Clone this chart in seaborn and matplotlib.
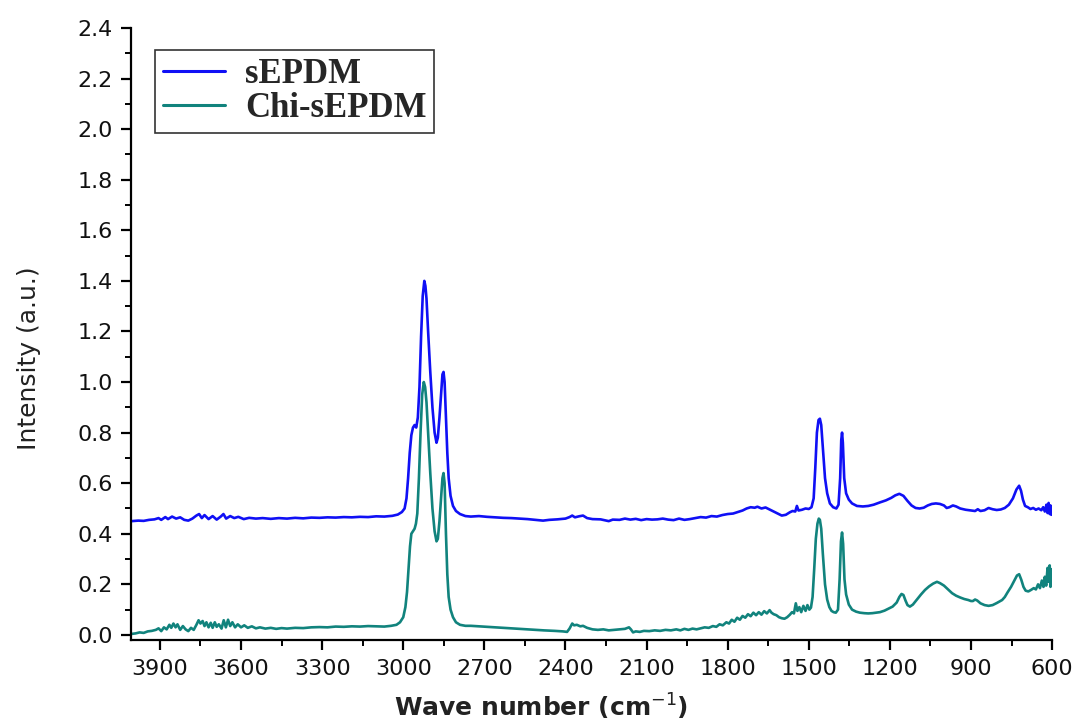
import numpy as np
import pandas as pd
import matplotlib
matplotlib.use("Agg")
import matplotlib.pyplot as plt
from matplotlib.ticker import MultipleLocator
import seaborn as sns

# ---- data ----
series_names = ["sEPDM", "Chi-sEPDM"]

sepdm_wn = [4005, 3980, 3960, 3940, 3920, 3905, 3895, 3880, 3870, 3855, 3840, 3825, 3810, 3795, 3780, 3765, 3755, 3745, 3735, 3720, 3705, 3690, 3675, 3665, 3655, 3640, 3625, 3610, 3590, 3570, 3545, 3520, 3490, 3460, 3430, 3400, 3370, 3340, 3310, 3280, 3250, 3220, 3190, 3160, 3130, 3100, 3070, 3040, 3020, 3005, 2995, 2988, 2982, 2976, 2970, 2964, 2958, 2952, 2946, 2940, 2934, 2928, 2922, 2918, 2914, 2908, 2900, 2892, 2884, 2877, 2872, 2866, 2860, 2855, 2851, 2847, 2842, 2837, 2832, 2825, 2816, 2805, 2790, 2770, 2750, 2720, 2690, 2660, 2630, 2600, 2570, 2540, 2510, 2483, 2460, 2430, 2400, 2385, 2375, 2365, 2350, 2335, 2320, 2300, 2270, 2240, 2225, 2200, 2180, 2160, 2140, 2120, 2100, 2080, 2060, 2040, 2020, 2000, 1980, 1960, 1940, 1920, 1900, 1880, 1860, 1840, 1820, 1800, 1780, 1760, 1745, 1730, 1715, 1700, 1690, 1675, 1660, 1645, 1630, 1615, 1600, 1585, 1570, 1560, 1550, 1544, 1538, 1525, 1512, 1500, 1490, 1482, 1476, 1470, 1464, 1459, 1454, 1448, 1440, 1432, 1422, 1410, 1398, 1390, 1384, 1380, 1377, 1374, 1369, 1362, 1352, 1340, 1322, 1300, 1280, 1260, 1237, 1215, 1195, 1180, 1165, 1150, 1135, 1120, 1105, 1090, 1075, 1060, 1045, 1030, 1015, 1000, 990, 980, 967, 955, 940, 920, 900, 885, 875, 865, 850, 835, 820, 805, 790, 775, 760, 745, 732, 722, 715, 708, 700, 690, 680, 670, 660, 650, 640, 633, 627, 621, 617, 613, 609, 606, 603, 600]
sepdm_int = [0.450, 0.452, 0.451, 0.455, 0.457, 0.462, 0.455, 0.466, 0.458, 0.468, 0.460, 0.465, 0.455, 0.452, 0.460, 0.472, 0.478, 0.462, 0.474, 0.458, 0.470, 0.456, 0.468, 0.478, 0.460, 0.470, 0.462, 0.467, 0.458, 0.463, 0.460, 0.462, 0.459, 0.462, 0.460, 0.463, 0.461, 0.464, 0.463, 0.465, 0.464, 0.466, 0.465, 0.467, 0.466, 0.469, 0.468, 0.471, 0.476, 0.486, 0.50, 0.54, 0.62, 0.72, 0.79, 0.82, 0.83, 0.82, 0.86, 0.98, 1.18, 1.34, 1.40, 1.38, 1.33, 1.20, 1.04, 0.90, 0.80, 0.76, 0.78, 0.86, 0.95, 1.03, 1.04, 1.00, 0.86, 0.72, 0.62, 0.55, 0.51, 0.49, 0.478, 0.470, 0.468, 0.470, 0.467, 0.465, 0.463, 0.462, 0.460, 0.458, 0.455, 0.452, 0.455, 0.457, 0.460, 0.466, 0.472, 0.465, 0.469, 0.472, 0.462, 0.458, 0.457, 0.450, 0.456, 0.455, 0.460, 0.456, 0.459, 0.454, 0.458, 0.456, 0.457, 0.460, 0.456, 0.454, 0.460, 0.455, 0.458, 0.462, 0.466, 0.464, 0.470, 0.468, 0.474, 0.478, 0.480, 0.487, 0.492, 0.500, 0.505, 0.503, 0.507, 0.500, 0.504, 0.496, 0.488, 0.480, 0.472, 0.475, 0.485, 0.490, 0.488, 0.510, 0.492, 0.495, 0.500, 0.498, 0.505, 0.540, 0.66, 0.80, 0.85, 0.855, 0.83, 0.74, 0.62, 0.56, 0.52, 0.505, 0.500, 0.515, 0.62, 0.77, 0.80, 0.76, 0.62, 0.56, 0.535, 0.52, 0.510, 0.508, 0.510, 0.515, 0.524, 0.532, 0.542, 0.552, 0.558, 0.550, 0.530, 0.512, 0.502, 0.500, 0.503, 0.512, 0.518, 0.520, 0.518, 0.512, 0.502, 0.505, 0.512, 0.508, 0.500, 0.495, 0.492, 0.490, 0.497, 0.490, 0.493, 0.502, 0.497, 0.494, 0.496, 0.502, 0.515, 0.540, 0.575, 0.590, 0.570, 0.535, 0.510, 0.505, 0.498, 0.502, 0.495, 0.500, 0.493, 0.505, 0.488, 0.515, 0.482, 0.522, 0.478, 0.512, 0.475, 0.500]

chi_wn = [4005, 3990, 3975, 3960, 3945, 3930, 3915, 3905, 3895, 3885, 3875, 3865, 3858, 3850, 3842, 3835, 3825, 3815, 3805, 3795, 3785, 3775, 3765, 3757, 3750, 3742, 3735, 3728, 3720, 3712, 3705, 3697, 3690, 3682, 3672, 3664, 3656, 3648, 3640, 3632, 3622, 3612, 3600, 3588, 3575, 3560, 3545, 3530, 3510, 3490, 3470, 3450, 3430, 3400, 3370, 3340, 3310, 3280, 3250, 3220, 3190, 3160, 3130, 3100, 3070, 3045, 3025, 3012, 3000, 2992, 2986, 2980, 2975, 2970, 2964, 2958, 2953, 2948, 2942, 2936, 2930, 2924, 2919, 2914, 2908, 2900, 2892, 2884, 2877, 2872, 2866, 2860, 2855, 2851, 2847, 2842, 2837, 2832, 2825, 2816, 2805, 2790, 2770, 2750, 2720, 2690, 2660, 2630, 2600, 2570, 2540, 2510, 2480, 2440, 2410, 2394, 2385, 2375, 2368, 2358, 2345, 2335, 2320, 2300, 2280, 2260, 2240, 2220, 2200, 2180, 2165, 2158, 2150, 2140, 2125, 2110, 2090, 2070, 2050, 2030, 2010, 1990, 1975, 1960, 1945, 1930, 1915, 1900, 1885, 1870, 1855, 1842, 1830, 1818, 1805, 1795, 1785, 1775, 1765, 1755, 1745, 1735, 1725, 1715, 1705, 1695, 1685, 1675, 1665, 1655, 1645, 1638, 1630, 1620, 1610, 1600, 1590, 1580, 1570, 1562, 1555, 1548, 1542, 1535, 1528, 1520, 1512, 1505, 1498, 1492, 1486, 1480, 1474, 1468, 1463, 1459, 1454, 1448, 1440, 1432, 1424, 1416, 1408, 1400, 1392, 1386, 1381, 1377, 1373, 1368, 1362, 1352, 1340, 1325, 1311, 1295, 1280, 1265, 1250, 1237, 1220, 1205, 1190, 1175, 1165, 1157, 1150, 1142, 1135, 1126, 1115, 1100, 1085, 1070, 1055, 1040, 1026, 1015, 1000, 985, 970, 955, 940, 925, 910, 900, 893, 885, 877, 865, 850, 835, 820, 805, 795, 785, 775, 765, 752, 740, 730, 722, 714, 706, 698, 688, 678, 668, 660, 652, 645, 638, 632, 627, 622, 617, 613, 609, 606, 603, 600]
chi_int = [0.004, 0.006, 0.010, 0.008, 0.014, 0.016, 0.020, 0.026, 0.015, 0.030, 0.022, 0.040, 0.028, 0.045, 0.030, 0.042, 0.020, 0.035, 0.022, 0.015, 0.028, 0.020, 0.040, 0.058, 0.045, 0.055, 0.035, 0.050, 0.030, 0.048, 0.028, 0.050, 0.032, 0.042, 0.025, 0.058, 0.030, 0.060, 0.035, 0.050, 0.030, 0.042, 0.030, 0.038, 0.028, 0.034, 0.026, 0.030, 0.025, 0.028, 0.024, 0.027, 0.025, 0.028, 0.027, 0.030, 0.031, 0.030, 0.033, 0.032, 0.034, 0.033, 0.035, 0.034, 0.033, 0.036, 0.040, 0.050, 0.070, 0.11, 0.17, 0.27, 0.35, 0.40, 0.41, 0.42, 0.44, 0.48, 0.62, 0.80, 0.95, 1.00, 0.98, 0.92, 0.80, 0.64, 0.50, 0.41, 0.37, 0.38, 0.45, 0.54, 0.62, 0.64, 0.60, 0.40, 0.24, 0.15, 0.10, 0.07, 0.05, 0.040, 0.036, 0.036, 0.034, 0.032, 0.030, 0.028, 0.026, 0.024, 0.022, 0.020, 0.018, 0.016, 0.014, 0.012, 0.025, 0.045, 0.038, 0.040, 0.034, 0.036, 0.028, 0.022, 0.020, 0.022, 0.018, 0.020, 0.022, 0.024, 0.030, 0.022, 0.010, 0.014, 0.012, 0.016, 0.015, 0.018, 0.016, 0.020, 0.018, 0.022, 0.018, 0.024, 0.020, 0.025, 0.022, 0.026, 0.030, 0.028, 0.035, 0.032, 0.042, 0.038, 0.050, 0.045, 0.060, 0.052, 0.068, 0.060, 0.075, 0.068, 0.082, 0.074, 0.088, 0.078, 0.090, 0.080, 0.094, 0.085, 0.098, 0.088, 0.082, 0.078, 0.070, 0.066, 0.064, 0.070, 0.080, 0.090, 0.085, 0.125, 0.095, 0.110, 0.090, 0.115, 0.095, 0.118, 0.100, 0.108, 0.150, 0.26, 0.38, 0.44, 0.46, 0.455, 0.42, 0.32, 0.20, 0.14, 0.11, 0.095, 0.090, 0.088, 0.100, 0.22, 0.37, 0.405, 0.36, 0.22, 0.16, 0.12, 0.100, 0.092, 0.088, 0.086, 0.085, 0.086, 0.088, 0.090, 0.096, 0.104, 0.112, 0.128, 0.150, 0.162, 0.158, 0.135, 0.118, 0.112, 0.120, 0.140, 0.160, 0.178, 0.192, 0.203, 0.210, 0.205, 0.195, 0.180, 0.165, 0.155, 0.148, 0.142, 0.138, 0.134, 0.134, 0.140, 0.136, 0.125, 0.118, 0.115, 0.118, 0.126, 0.132, 0.138, 0.150, 0.168, 0.190, 0.215, 0.235, 0.240, 0.218, 0.190, 0.175, 0.172, 0.178, 0.185, 0.180, 0.200, 0.185, 0.215, 0.190, 0.230, 0.195, 0.265, 0.210, 0.275, 0.190, 0.260, 0.215]

x_ticks = [3900, 3600, 3300, 3000, 2700, 2400, 2100, 1800, 1500, 1200, 900, 600]
y_ticks = [0.0, 0.2, 0.4, 0.6, 0.8, 1.0, 1.2, 1.4, 1.6, 1.8, 2.0, 2.2, 2.4]

# ---- build a tidy table ----
df = pd.concat([
    pd.DataFrame({"wn": sepdm_wn, "intensity": sepdm_int, "sample": series_names[0]}),
    pd.DataFrame({"wn": chi_wn, "intensity": chi_int, "sample": series_names[1]}),
], ignore_index=True)

sns.set_theme(style="ticks")
plt.rcParams["font.family"] = ["DejaVu Sans"]

fig = plt.figure(figsize=(10.78, 7.22), dpi=100)
ax = fig.add_axes([0.1215, 0.1136, 0.8545, 0.8476])

palette = {"sEPDM": "#1010F5", "Chi-sEPDM": "#11837D"}
sns.lineplot(data=df, x="wn", y="intensity", hue="sample", palette=palette,
             estimator=None, sort=False, linewidth=1.9, ax=ax, legend=True)

ax.set_xlim(4007, 600)
ax.set_ylim(-0.02, 2.4)
ax.set_xticks(x_ticks)
ax.set_yticks(y_ticks)
ax.set_xticklabels([str(t) for t in x_ticks])
ax.set_yticklabels([f"{t:.1f}" for t in y_ticks])
ax.xaxis.set_minor_locator(MultipleLocator(150))
ax.yaxis.set_minor_locator(MultipleLocator(0.1))

for s in ["top", "right"]:
    ax.spines[s].set_visible(False)
for s in ["left", "bottom"]:
    ax.spines[s].set_color("black")
    ax.spines[s].set_linewidth(1.6)

ax.tick_params(axis="both", which="major", direction="out", length=7, width=1.6,
               color="black", labelsize=16, labelcolor="#111111", pad=6)
ax.tick_params(axis="x", which="major", pad=7)
ax.tick_params(axis="both", which="minor", direction="out", length=4, width=1.4,
               color="black")

ax.set_ylabel("Intensity (a.u.)", fontsize=18, color="#222222")
ax.yaxis.set_label_coords(-0.098, 0.46)
ax.set_xlabel("Wave number (cm$^{-1}$)", fontsize=18, fontweight="bold",
              color="#222222")
ax.xaxis.set_label_coords(0.445, -0.085)

handles, labels = ax.get_legend_handles_labels()
leg = ax.legend(handles, labels, loc="upper left", bbox_to_anchor=(0.026, 0.964),
                borderaxespad=0, frameon=True, fancybox=False,
                prop={"family": "Liberation Serif", "weight": "bold", "size": 25},
                handlelength=1.8, handletextpad=0.58, borderpad=0.22,
                labelspacing=0.05)
leg.get_frame().set_edgecolor("black")
leg.get_frame().set_linewidth(1.2)
for line in leg.get_lines():
    line.set_linewidth(2.2)

fig.savefig("out.png", dpi=100)
